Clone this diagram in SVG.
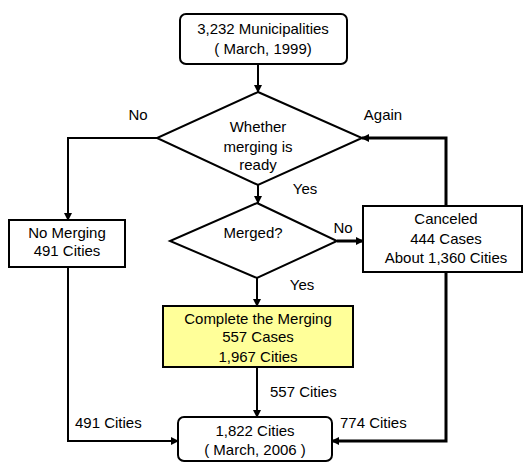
<svg xmlns="http://www.w3.org/2000/svg" width="529" height="463" viewBox="0 0 529 463">
<defs>
<marker id="ah" markerWidth="8" markerHeight="8" refX="7" refY="4" orient="auto" markerUnits="userSpaceOnUse">
<path d="M0,0 L8,4 L0,8 Z" fill="#000"/>
</marker>
</defs>
<style>
text{font-family:"Liberation Sans",Arial,sans-serif;font-size:15px;fill:#000;text-anchor:middle;dominant-baseline:central}
.lbl{text-anchor:start}
.shape{fill:#fff;stroke:#000;stroke-width:2}
.yel{fill:#ffff99;stroke:#000;stroke-width:2}
.edge{fill:none;stroke:#000;stroke-width:2;marker-end:url(#ah)}
.thick{stroke-width:3}
</style>
<rect width="529" height="463" fill="#fff"/>
<g id="connectors">
<path class="edge" d="M258,64 V92"/>
<path class="edge" d="M157,138 H68 V220"/>
<path class="edge" d="M258,185 V203"/>
<path class="edge thick" d="M446,206 V138 H362"/>
<path class="edge thick" d="M337,241 H363"/>
<path class="edge" d="M257,278 V306"/>
<path class="edge" d="M257,367 V417"/>
<path class="edge" d="M68,267 V441 H178"/>
<path class="edge thick" d="M446,272 V441 H332"/>
</g>
<g id="start">
<rect class="shape" x="180" y="14" width="167" height="50" rx="6"/>
<text x="263" y="28">3,232 Municipalities</text>
<text x="263" y="48">( March, 1999)</text>
</g>
<g id="ready">
<path class="shape" d="M258,92 L362,138 L258,185 L157,138 Z"/>
<text x="258" y="126">Whether</text>
<text x="258" y="146">merging is</text>
<text x="258" y="164">ready</text>
</g>
<g id="nomerge">
<rect class="shape" x="9" y="220" width="116" height="47"/>
<text x="67" y="232">No Merging</text>
<text x="67" y="250">491 Cities</text>
</g>
<g id="merged">
<path class="shape" d="M257,203 L337,241 L257,278 L170,241 Z"/>
<text x="253" y="232">Merged?</text>
</g>
<g id="canceled">
<rect class="shape" x="363" y="206" width="159" height="66"/>
<text x="446" y="218">Canceled</text>
<text x="446" y="238">444 Cases</text>
<text x="446" y="257">About 1,360 Cities</text>
</g>
<g id="complete">
<rect class="yel" x="163" y="306" width="190" height="61"/>
<text x="258" y="318">Complete the Merging</text>
<text x="258" y="336">557 Cases</text>
<text x="258" y="356">1,967 Cities</text>
</g>
<g id="end">
<rect class="shape" x="178" y="417" width="154" height="44" rx="6"/>
<text x="255" y="430">1,822 Cities</text>
<text x="255" y="449">( March, 2006 )</text>
</g>
<g id="labels">
<text x="138" y="114">No</text>
<text x="383" y="114">Again</text>
<text x="305" y="188">Yes</text>
<text x="343" y="227">No</text>
<text x="302" y="284">Yes</text>
<text class="lbl" x="270" y="391">557 Cities</text>
<text class="lbl" x="75" y="422">491 Cities</text>
<text class="lbl" x="340" y="422">774 Cities</text>
</g>
</svg>
